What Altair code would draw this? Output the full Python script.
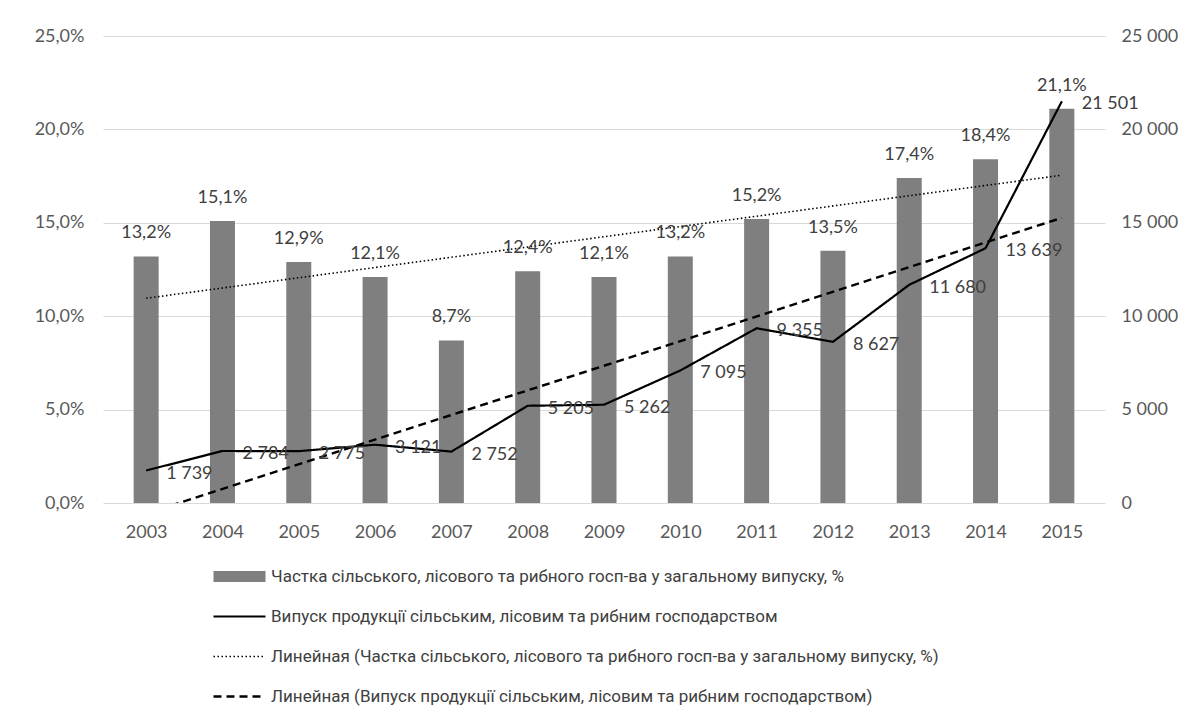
import json
import altair as alt
import pandas as pd

years = list(range(2003, 2016))
share = [13.2, 15.1, 12.9, 12.1, 8.7, 12.4, 12.1, 13.2, 15.2, 13.5, 17.4, 18.4, 21.1]
output = [1739, 2784, 2775, 3121, 2752, 5205, 5262, 7095, 9355, 8627, 11680, 13639, 21501]

s_bar = "Частка сільського, лісового та рибного госп-ва у загальному випуску, %"
s_line = "Випуск продукції сільським, лісовим та рибним господарством"
s_trend1 = "Линейная (Частка сільського, лісового та рибного госп-ва у загальному випуску, %)"
s_trend2 = "Линейная (Випуск продукції сільським, лісовим та рибним господарством)"
series = [s_bar, s_line, s_trend1, s_trend2]

df = pd.DataFrame({"year": years, "share": share, "output": output})
df["share_label"] = [f"{v:.1f}".replace(".", ",") + "%" for v in share]
df["output_label"] = [f"{v:,}".replace(",", " ") for v in output]

FONT = "Lato"
base = alt.Chart(df)

xscale = alt.Scale(domain=[2002.5, 2015.5], nice=False, zero=False)
x_axis = alt.Axis(values=years, format="d", grid=False, labelPadding=20, title=None)
X = alt.X("year:Q", scale=xscale, axis=x_axis)

left_axis = alt.Axis(values=[0, 5, 10, 15, 20, 25], grid=True, labelPadding=19, title=None,
                     labelExpr="replace(format(datum.value, '.1f'), '.', ',') + '%'")
right_axis = alt.Axis(orient="right", values=[0, 5000, 10000, 15000, 20000, 25000], grid=False,
                      labelPadding=16, title=None,
                      labelExpr="replace(format(datum.value, ','), ',', ' ')")

lscale = alt.Scale(domain=[0, 25], nice=False)
rscale = alt.Scale(domain=[0, 25000], nice=False)
YL = alt.Y("share:Q", scale=lscale, axis=left_axis)
YR = alt.Y("output:Q", scale=rscale, axis=right_axis)

legend = alt.Legend(orient="none", legendX=105, legendY=531, direction="vertical",
                    symbolType="stroke", symbolSize=2704, labelFont="Roboto",
                    labelFontSize=17, labelColor="#404040", rowPadding=21, clipHeight=19,
                    labelOffset=0, title=None, labelLimit=900)
color_scale = alt.Scale(domain=series, range=["#7f7f7f", "#000000", "#000000", "#000000"])
dash_scale = alt.Scale(domain=series, range=[[1, 0], [1, 0], [1.5, 2.5], [8, 5]])
width_scale = alt.Scale(type="ordinal", domain=series, range=[11, 2.2, 1.6, 2.4])


def senc():
    return dict(
        color=alt.Color("series:N", scale=color_scale, legend=legend, title=None),
        strokeDash=alt.StrokeDash("series:N", scale=dash_scale, legend=legend, title=None),
        strokeWidth=alt.StrokeWidth("series:N", scale=width_scale, legend=legend, title=None),
    )


def lit(s):
    return json.dumps(s, ensure_ascii=False)


bars = base.mark_bar(color="#7f7f7f", size=25).encode(x=X, y=YL)
dotted = base.transform_regression("year", "share").transform_calculate(
    series=lit(s_trend1)
).mark_line(clip=True).encode(x=X, y=YL, **senc())
bar_labels = base.mark_text(dy=-23, baseline="middle", align="center", font=FONT,
                            fontSize=18, color="#404040").encode(
    x=X, y=YL, text="share_label:N"
)

line = base.transform_calculate(series=lit(s_line)).mark_line(clip=True).encode(
    x=X, y=YR, **senc()
)
dashed = base.transform_regression("year", "output").transform_calculate(
    series=lit(s_trend2)
).mark_line(clip=True).encode(x=X, y=YR, **senc())
line_labels = base.mark_text(dx=20, dy=3, baseline="middle", align="left", font=FONT,
                             fontSize=18, color="#404040").encode(
    x=X, y=YR, text="output_label:N"
)

left = alt.layer(bars, dotted, bar_labels)
right = alt.layer(line, dashed, line_labels)

chart = alt.layer(left, right).resolve_scale(y="independent").properties(
    width=1002, height=467,
    padding={"left": 95, "top": 28, "right": 86, "bottom": 210},
    autosize=alt.AutoSizeParams(type="none"),
).configure_view(stroke=None).configure_axis(
    domain=False, ticks=False, labelFont=FONT, labelFontSize=18, labelColor="#595959",
    gridColor="#d9d9d9", gridWidth=1,
)

chart.save("out.html", embed_options={"renderer": "svg", "actions": False})
